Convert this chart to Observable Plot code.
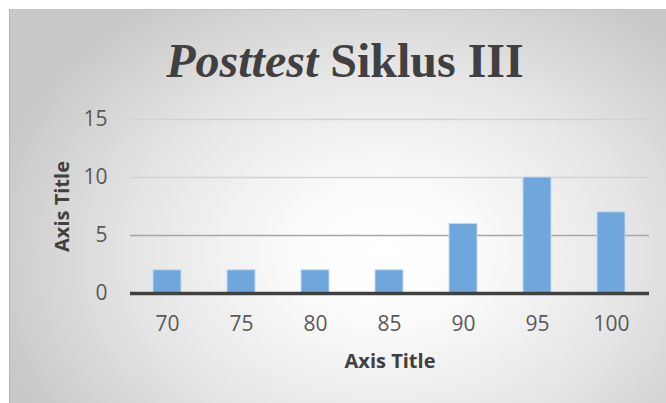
<!DOCTYPE html>
<html>
<head>
<meta charset="utf-8">
<script src="https://cdn.jsdelivr.net/npm/d3@7"></script>
<script src="https://cdn.jsdelivr.net/npm/@observablehq/plot@0.6"></script>
<style>
  html, body { margin: 0; padding: 0; background: #ffffff; }
  #frame {
    position: absolute; left: 9px; top: 9px; width: 656px; height: 393px;
    border-left: 1px solid #b4b4b4; border-top: 1px solid #c4c4c4;
    background: radial-gradient(ellipse 62% 78% at 57% 62%, #ffffff 0%, #fbfbfb 22%, #e6e6e6 60%, #c8c8c8 100%);
    overflow: hidden;
  }
  #title {
    position: absolute; left: 0; top: 21px; width: 656px; padding-left: 14px; box-sizing: border-box;
    text-align: center; font-family: "Liberation Serif", "Times New Roman", serif;
    font-weight: bold; font-size: 48px; color: #404040; line-height: 60px; white-space: nowrap;
  }
  #chart { position: absolute; left: 0; top: 86px; }
</style>
</head>
<body>
<div id="frame">
  <div id="title"><i>Posttest</i> Siklus III</div>
  <div id="chart"></div>
</div>
<script>
const categories = ["70", "75", "80", "85", "90", "95", "100"];
const counts = [2, 2, 2, 2, 6, 10, 7];
const yTicks = [0, 5, 10, 15];
const xAxisTitle = "Axis Title";
const yAxisTitle = "Axis Title";

const data = categories.map((c, i) => ({score: c, count: counts[i]}));

const chart = Plot.plot({
  width: 656, height: 308,
  marginLeft: 120, marginRight: 17, marginTop: 23, marginBottom: 111,
  style: {background: "transparent", fontFamily: "'Open Sans', sans-serif", fontSize: "21px", color: "#595959", overflow: "visible"},
  x: {domain: categories, paddingInner: 0.62, paddingOuter: 0.31, label: null},
  y: {domain: [0, 15], label: null},
  marks: [
    Plot.gridY([10, 15], {stroke: "#d2d2d2", strokeOpacity: 1, strokeWidth: 1.3}),
    Plot.gridY([5], {stroke: "#a6a6a6", strokeOpacity: 1, strokeWidth: 1.3}),
    Plot.barY(data, {x: "score", y: "count", fill: "#6fa6db", stroke: "#c2d9ef", strokeWidth: 1}),
    Plot.ruleY([0], {stroke: "#404040", strokeWidth: 3.5}),
    Plot.axisY({ticks: yTicks, tickSize: 0, tickPadding: 23, label: null, fill: "#595959"}),
    Plot.axisX({tickSize: 0, tickPadding: 23, label: null, fill: "#595959"}),
    Plot.text([xAxisTitle], {frameAnchor: "bottom", dy: 74, fontWeight: "bold", fontSize: 20, fill: "#404040"}),
    Plot.text([yAxisTitle], {frameAnchor: "left", dx: -68, rotate: -90, textAnchor: "middle", fontWeight: "bold", fontSize: 20, fill: "#404040"})
  ]
});
document.getElementById("chart").appendChild(chart);
</script>
</body>
</html>
